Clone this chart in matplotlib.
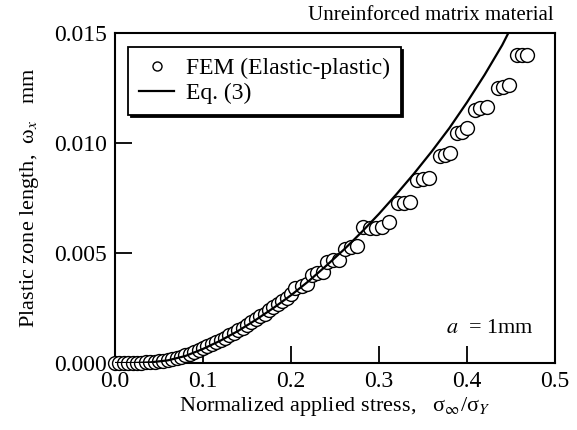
import matplotlib
matplotlib.use("Agg")
import matplotlib.pyplot as plt

# FEM (elastic-plastic) results
fem_x = [0.000, 0.005, 0.010, 0.015, 0.020, 0.025, 0.030, 0.035, 0.040, 0.045,
         0.050, 0.055, 0.060, 0.065, 0.070, 0.075, 0.080, 0.085, 0.090, 0.095,
         0.100, 0.105, 0.110, 0.115, 0.120, 0.125, 0.130, 0.135, 0.140, 0.145,
         0.150, 0.155, 0.160, 0.165, 0.170, 0.175, 0.180, 0.185, 0.190, 0.195,
         0.200,
         0.205, 0.212, 0.218,
         0.224, 0.230, 0.236,
         0.241, 0.248, 0.255,
         0.261, 0.268, 0.275,
         0.282, 0.290, 0.297, 0.303, 0.311,
         0.322, 0.328, 0.335,
         0.343, 0.350, 0.357,
         0.369, 0.375, 0.381,
         0.389, 0.394, 0.400,
         0.409, 0.415, 0.423,
         0.435, 0.441, 0.448,
         0.457, 0.462, 0.468]
fem_y = [0.00000, 0.00000, 0.00000, 0.00000, 0.00000, 0.00001, 0.00002, 0.00003, 0.00004, 0.00006,
         0.00008, 0.00010, 0.00013, 0.00017, 0.00022, 0.00028, 0.00035, 0.00043, 0.00051, 0.00059,
         0.00067, 0.00076, 0.00085, 0.00095, 0.00105, 0.00115, 0.00126, 0.00137, 0.00149, 0.00161,
         0.00173, 0.00186, 0.00199, 0.00212, 0.00225, 0.00239, 0.00253, 0.00267, 0.00282, 0.00297,
         0.00312,
         0.00340, 0.00352, 0.00360,
         0.00400, 0.00410, 0.00412,
         0.00460, 0.00468, 0.00470,
         0.00520, 0.00528, 0.00530,
         0.00620, 0.00612, 0.00612, 0.00620, 0.00640,
         0.00728, 0.00728, 0.00732,
         0.00830, 0.00838, 0.00840,
         0.00940, 0.00945, 0.00955,
         0.01045, 0.01050, 0.01070,
         0.01150, 0.01160, 0.01164,
         0.01250, 0.01255, 0.01264,
         0.01400, 0.01400, 0.01400]

# Eq. (3) curve
eq_x = [0.00, 0.02, 0.04, 0.06, 0.08, 0.10, 0.12, 0.14, 0.16, 0.18, 0.20, 0.22,
        0.24, 0.26, 0.28, 0.30, 0.32, 0.34, 0.36, 0.38, 0.40, 0.42, 0.44, 0.447]
eq_y = [0.0, 0.00000, 0.00003, 0.00012, 0.00032, 0.00064, 0.00102, 0.00146, 0.00196,
        0.00250, 0.00308, 0.00372, 0.00442, 0.00515, 0.00594, 0.00678, 0.00768,
        0.00862, 0.00962, 0.01068, 0.01185, 0.01310, 0.01445, 0.01500]

xticks = [0.0, 0.1, 0.2, 0.3, 0.4, 0.5]
yticks = [0.000, 0.005, 0.010, 0.015]

plt.rcParams['font.family'] = ['Liberation Serif', 'DejaVu Serif']
plt.rcParams['mathtext.fontset'] = 'stix'

fig = plt.figure(figsize=(5.77, 4.30), dpi=100)
ax = fig.add_axes([0.1993, 0.1558, 0.7626, 0.7675])

ax.plot(fem_x, fem_y, 'o', ms=10, mfc='white', mec='black', mew=1.0,
        clip_on=False, label='FEM (Elastic-plastic)', zorder=3)
ax.plot(eq_x, eq_y, '-', color='black', lw=1.6, label='Eq. (3)', zorder=4)

ax.set_xlim(0, 0.5)
ax.set_ylim(0, 0.015)
ax.set_xticks(xticks)
ax.set_yticks(yticks)
ax.set_xticklabels(['%.1f' % v for v in xticks])
ax.set_yticklabels(['%.3f' % v for v in yticks])
ax.tick_params(direction='in', length=12, width=1.3, labelsize=17, pad=6)
for s in ax.spines.values():
    s.set_linewidth(1.5)

ax.set_xlabel('Normalized applied stress,   σ$_\\infty$/σ$_Y$', fontsize=16, labelpad=2)
ax.set_ylabel('Plastic zone length,  ω$_x$   mm', fontsize=16, labelpad=9)

fig.text(0.959, 0.965, 'Unreinforced matrix material', fontsize=15,
         ha='right', va='center')
ax.text(0.752, 0.105, '$a$  = 1mm', transform=ax.transAxes, fontsize=16,
        ha='left', va='center')

leg = ax.legend(loc='upper left', bbox_to_anchor=(0.03, 0.958), fontsize=17,
                frameon=True, fancybox=False, edgecolor='black', framealpha=1,
                shadow={'ox': 2, 'oy': -2, 'color': 'black', 'alpha': 1},
                markerscale=0.65, handlelength=1.5, handletextpad=0.5,
                borderpad=0.45, labelspacing=0.15, borderaxespad=0)
leg.get_frame().set_linewidth(1.3)

fig.savefig('out.png', dpi=100)
